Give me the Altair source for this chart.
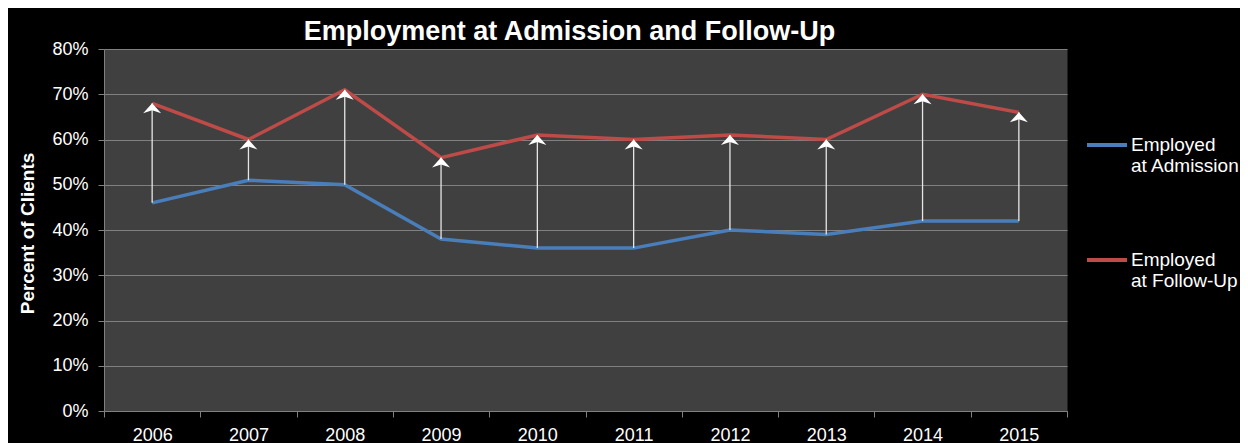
import altair as alt
import pandas as pd

years = ["2006", "2007", "2008", "2009", "2010", "2011", "2012", "2013", "2014", "2015"]
admission = [46, 51, 50, 38, 36, 36, 40, 39, 42, 42]
followup = [68, 60, 71, 56, 61, 60, 61, 60, 70, 66]
series = ["Employed at Admission", "Employed at Follow-Up"]
colors = ["#4A7EBB", "#BE4B48"]
y_ticks = [0, 0.1, 0.2, 0.3, 0.4, 0.5, 0.6, 0.7, 0.8]

FONT = "Liberation Sans"
GRAY = "#808080"

long_df = pd.DataFrame({
    "year": years * 2,
    "series": [series[0]] * len(years) + [series[1]] * len(years),
    "value": [v / 100 for v in admission + followup],
})
wide_df = pd.DataFrame({
    "year": years,
    "adm": [v / 100 for v in admission],
    "fol": [v / 100 for v in followup],
})

x_enc = alt.X(
    "year:O",
    scale=alt.Scale(type="band", paddingInner=0, paddingOuter=0),
    axis=alt.Axis(
        title=None, tickBand="extent", labelAngle=0, grid=False,
        domainColor=GRAY, tickColor=GRAY, tickSize=6, labelPadding=9,
        labelFont=FONT, labelFontSize=18, labelColor="white", labelBaseline="top",
    ),
)
y_scale = alt.Scale(domain=[0, 0.8])
y_axis = alt.Axis(
    title="Percent of Clients", format=".0%", values=y_ticks,
    grid=True, gridColor=GRAY, gridWidth=1,
    domainColor=GRAY, tickColor=GRAY, tickSize=6, labelPadding=10,
    labelFont=FONT, labelFontSize=18, labelColor="white",
    titleFont=FONT, titleFontSize=19, titleFontWeight="bold", titleColor="white",
    titleAngle=-90, titleX=-77, titleY=184, titleAlign="center", titleBaseline="middle",
)

lines = alt.Chart(long_df).mark_line(strokeWidth=3.5).encode(
    x=x_enc,
    y=alt.Y("value:Q", scale=y_scale, axis=y_axis),
    color=alt.Color(
        "series:N",
        scale=alt.Scale(domain=series, range=colors),
        legend=alt.Legend(
            orient="none", legendX=981, legendY=74, title=None,
            symbolType="M-1,0L1,0", symbolSize=1600, symbolStrokeWidth=4,
            labelFont=FONT, labelFontSize=19, labelColor="white",
            labelOffset=2, rowPadding=62, labelLimit=0, padding=0,
            labelExpr="[slice(datum.label, 0, 8), slice(datum.label, 9)]",
        ),
    ),
)

rules = alt.Chart(wide_df).mark_rule(color="#e6e6e6", strokeWidth=1.3).encode(
    x=alt.X("year:O"),
    y=alt.Y("adm:Q"),
    y2="fol:Q",
)

heads = alt.Chart(wide_df).mark_point(
    shape="M0,0L0.9,1L0,0.7L-0.9,1Z", size=400, filled=True,
    color="white", opacity=1, strokeWidth=0,
).encode(
    x=alt.X("year:O"),
    y=alt.Y("fol:Q"),
)

chart = alt.layer(lines, rules, heads).properties(
    width=963,
    height=362,
    background="black",
    autosize=alt.AutoSizeParams(type="none"),
    padding={"left": 96, "top": 41, "right": 173, "bottom": 32},
    title=alt.Title(
        "Employment at Admission and Follow-Up",
        font=FONT, fontSize=27, fontWeight="bold", color="white",
        anchor="middle", dx=-16, offset=-6,
    ),
).configure_view(fill="#404040", stroke="transparent")

chart.save("out.html", embed_options={"renderer": "svg", "actions": False})
